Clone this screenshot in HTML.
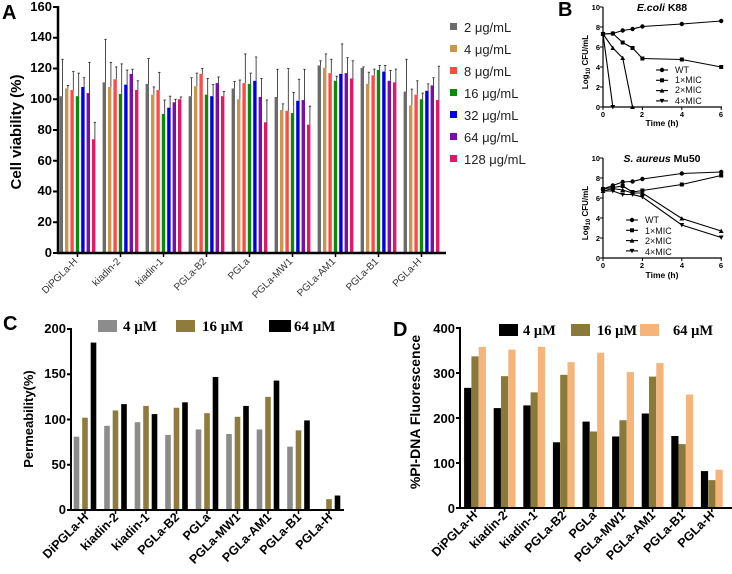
<!DOCTYPE html>
<html><head><meta charset="utf-8"><style>
html,body{margin:0;padding:0;background:#fff;}
svg{display:block;font-family:"Liberation Sans",Arial,sans-serif;}
.b{font-weight:bold;}
.s{font-family:"Liberation Serif",serif;font-weight:bold;}
</style></head><body>
<svg id="s" width="732" height="574" viewBox="0 0 732 574" xmlns="http://www.w3.org/2000/svg">
<g id="g"></g>
<text x="2" y="19" class="b" font-size="20">A</text>
<text x="558" y="16" class="b" font-size="20">B</text>
<text x="3" y="330" class="b" font-size="20">C</text>
<text x="393" y="336" class="b" font-size="20">D</text>

<g class="b" font-size="13" text-anchor="end">
<text x="52" y="257">0</text><text x="52" y="226">20</text><text x="52" y="195">40</text><text x="52" y="165">60</text><text x="52" y="134">80</text><text x="52" y="103">100</text><text x="52" y="72">120</text><text x="52" y="41">140</text><text x="52" y="11">160</text>
</g>
<text transform="translate(21,132) rotate(-90)" text-anchor="middle" class="b" font-size="15">Cell viability (%)</text>
<g font-size="10" fill="#333" text-anchor="end">
<text transform="translate(78,262) rotate(-45)">DiPGLa-H</text>
<text transform="translate(121,262) rotate(-45)">kiadin-2</text>
<text transform="translate(164,262) rotate(-45)">kiadin-1</text>
<text transform="translate(207,262) rotate(-45)">PGLa-B2</text>
<text transform="translate(250,262) rotate(-45)">PGLa</text>
<text transform="translate(293,262) rotate(-45)">PGLa-MW1</text>
<text transform="translate(336,262) rotate(-45)">PGLa-AM1</text>
<text transform="translate(379,262) rotate(-45)">PGLa-B1</text>
<text transform="translate(422,262) rotate(-45)">PGLa-H</text>
</g>
<g font-size="13" fill="#222">
<text x="464" y="32">2 μg/mL</text><text x="464" y="54">4 μg/mL</text><text x="464" y="76">8 μg/mL</text><text x="464" y="98">16 μg/mL</text><text x="464" y="120">32 μg/mL</text><text x="464" y="142">64 μg/mL</text><text x="464" y="164">128 μg/mL</text>
</g>

<text x="662" y="11" text-anchor="middle" class="b" font-size="10.5"><tspan font-style="italic">E.coli</tspan> K88</text>
<text x="662" y="162" text-anchor="middle" class="b" font-size="10.5"><tspan font-style="italic">S. aureus</tspan> Mu50</text>
<g class="b" font-size="7.5" text-anchor="end">
<text x="600" y="110">0</text><text x="600" y="90">2</text><text x="600" y="70">4</text><text x="600" y="50">6</text><text x="600" y="30">8</text><text x="600" y="10">10</text>
<text x="600" y="261">0</text><text x="600" y="241">2</text><text x="600" y="221">4</text><text x="600" y="201">6</text><text x="600" y="181">8</text><text x="600" y="161">10</text>
</g>
<g class="b" font-size="7.5" text-anchor="middle">
<text x="603" y="117">0</text><text x="642" y="117">2</text><text x="682" y="117">4</text><text x="721" y="117">6</text>
<text x="603" y="268">0</text><text x="642" y="268">2</text><text x="682" y="268">4</text><text x="721" y="268">6</text>
<text x="662" y="126" font-size="8.5">Time (h)</text>
<text x="662" y="278" font-size="8.5">Time (h)</text>
</g>
<text transform="translate(588,62) rotate(-90)" text-anchor="middle" class="b" font-size="8">Log<tspan font-size="6" dy="2">10</tspan><tspan dy="-2"> CFU/mL</tspan></text>
<text transform="translate(588,213) rotate(-90)" text-anchor="middle" class="b" font-size="8">Log<tspan font-size="6" dy="2">10</tspan><tspan dy="-2"> CFU/mL</tspan></text>
<g font-size="9" fill="#111">
<text x="675" y="73">WT</text><text x="675" y="83">1×MIC</text><text x="675" y="93">2×MIC</text><text x="675" y="104">4×MIC</text>
<text x="645" y="223">WT</text><text x="645" y="234">1×MIC</text><text x="645" y="244">2×MIC</text><text x="645" y="255">4×MIC</text>
</g>

<g class="b" font-size="13" text-anchor="end">
<text x="66" y="514">0</text><text x="66" y="469">50</text><text x="66" y="424">100</text><text x="66" y="378">150</text><text x="66" y="333">200</text>
</g>
<text transform="translate(33,419) rotate(-90)" text-anchor="middle" class="b" font-size="13">Permeability(%)</text>
<g class="s" font-size="15">
<text x="123" y="331">4 μM</text><text x="202" y="331">16 μM</text><text x="294" y="331">64 μM</text>
</g>
<g class="b" font-size="12.5" text-anchor="end">
<text transform="translate(89,518) rotate(-45)">DiPGLa-H</text>
<text transform="translate(119,518) rotate(-45)">kiadin-2</text>
<text transform="translate(150,518) rotate(-45)">kiadin-1</text>
<text transform="translate(180,518) rotate(-45)">PGLa-B2</text>
<text transform="translate(211,518) rotate(-45)">PGLa</text>
<text transform="translate(241,518) rotate(-45)">PGLa-MW1</text>
<text transform="translate(272,518) rotate(-45)">PGLa-AM1</text>
<text transform="translate(302,518) rotate(-45)">PGLa-B1</text>
<text transform="translate(333,518) rotate(-45)">PGLa-H</text>
</g>

<g class="b" font-size="13" text-anchor="end">
<text x="455" y="513">0</text><text x="455" y="468">100</text><text x="455" y="423">200</text><text x="455" y="378">300</text><text x="455" y="333">400</text>
</g>
<text transform="translate(420,412) rotate(-90)" text-anchor="middle" class="b" font-size="14">%PI-DNA Fluorescence</text>
<g class="s" font-size="14.5">
<text x="523" y="335">4 μM</text><text x="597" y="335">16 μM</text><text x="673" y="335">64 μM</text>
</g>
<g class="b" font-size="12.5" text-anchor="end">
<text transform="translate(478,516) rotate(-45)">DiPGLa-H</text>
<text transform="translate(508,516) rotate(-45)">kiadin-2</text>
<text transform="translate(538,516) rotate(-45)">kiadin-1</text>
<text transform="translate(567,516) rotate(-45)">PGLa-B2</text>
<text transform="translate(597,516) rotate(-45)">PGLa</text>
<text transform="translate(626,516) rotate(-45)">PGLa-MW1</text>
<text transform="translate(656,516) rotate(-45)">PGLa-AM1</text>
<text transform="translate(686,516) rotate(-45)">PGLa-B1</text>
<text transform="translate(715,516) rotate(-45)">PGLa-H</text>
</g>
</svg>
<script>
var g=document.getElementById('g'),NS='http://www.w3.org/2000/svg';
function el(t,a){var e=document.createElementNS(NS,t);for(var k in a)e.setAttribute(k,a[k]);g.appendChild(e);return e;}
function ln(x1,y1,x2,y2,w,c){el('line',{x1:x1,y1:y1,x2:x2,y2:y2,stroke:c||'#000','stroke-width':w||1});}
var colA=['#6b6b6b','#c8964f','#ff4a4a','#0a8a0a','#0000e0','#7a0fa8','#e0186a'];
var vA=[[102,107,106,102,108,104,74],[111,108,113,103.5,109.5,116.5,106],[110,103,106,90.5,94.5,98,100],[102,108.5,116.5,103,102,110.5,102],[107,100,110.5,110,112,101.5,85],[101.5,93,92.5,91,99,99.5,83.5],[122,120.5,117,112,116.5,117,113.5],[120.4,110,115.5,119,118,112,111],[105,96,103,100,105.5,109,99.5]];
var eA=[[126,109,118,117,114,124,85],[139,124,121,123,119,119.5,112],[126.5,108,117.5,99.5,102,100,101.5],[114,117,120,113.5,109.5,114.5,105],[111.5,112.5,129.5,117,127.5,113.5,99.5],[119.5,97,120,104.5,113,119.5,95.5],[125,129.5,126,115,136,127,125],[121,117.6,119.6,122,122,118.7,119.6],[126,106.6,112,104,110,114,121.5]];
function yA(v){return 253-v*246/160;}
for(var i=0;i<9;i++){var c=77.5+i*43;for(var j=0;j<7;j++){var x=c+(j-3)*5.4;
el('rect',{x:x-1.7,y:yA(vA[i][j]),width:3.4,height:253-yA(vA[i][j]),fill:colA[j]});
ln(x+1.2,yA(vA[i][j]),x+1.2,yA(eA[i][j]),0.8,'#222');ln(x,yA(eA[i][j]),x+2.4,yA(eA[i][j]),0.8,'#222');}
ln(c,253,c,257,1.5);}
ln(58,6,58,254,2.5);ln(57,253,446,253,2.5);
for(var k=0;k<=8;k++)ln(53,yA(k*20),58,yA(k*20),2);
for(var j=0;j<7;j++)el('rect',{x:450,y:23+j*22,width:7,height:7,fill:colA[j]});
function bx(t){return 603+t*19.7;}
function plot(oy,series,lx,ly){
 ln(603,oy-100,603,oy,1.2);ln(603,oy,722,oy,1.2);
 for(var k=0;k<=5;k++)ln(600,oy-k*20,603,oy-k*20,1);
 [0,2,4,6].forEach(function(t){ln(bx(t),oy,bx(t),oy+3,1);});
 series.forEach(function(s,si){var p=s.map(function(q){return bx(q[0])+','+(oy-q[1]*10);}).join(' ');
  el('polyline',{points:p,fill:'none',stroke:'#000','stroke-width':1.1});
  s.forEach(function(q){mk(bx(q[0]),oy-q[1]*10,si);});
  ln(lx-6,ly+si*10.3,lx+6,ly+si*10.3,1.1);mk(lx,ly+si*10.3,si);});
}
function mk(x,y,t){if(t==0)el('circle',{cx:x,cy:y,r:2.2});else if(t==1)el('rect',{x:x-2,y:y-2,width:4,height:4});else if(t==2)el('polygon',{points:(x-2.4)+','+(y+2)+' '+(x+2.4)+','+(y+2)+' '+x+','+(y-2.4)});else el('polygon',{points:(x-2.4)+','+(y-2)+' '+(x+2.4)+','+(y-2)+' '+x+','+(y+2.4)});}
plot(107,[[[0,7.3],[0.5,7.35],[1,7.65],[1.5,7.8],[2,8.05],[4,8.3],[6,8.6]],[[0,7.3],[0.5,7.35],[1,6.45],[1.5,5.9],[2,4.85],[4,4.75],[6,4.0]],[[0,7.3],[0.5,5.9],[1,4.9],[1.5,0]],[[0,7.3],[0.5,0]]],662,70);
plot(258,[[[0,6.9],[0.5,7.25],[1,7.6],[1.5,7.65],[2,7.9],[4,8.45],[6,8.6]],[[0,6.9],[0.5,7.05],[1,7.2],[1.5,6.6],[2,6.75],[4,7.35],[6,8.25]],[[0,6.7],[0.5,6.95],[1,6.8],[1.5,6.5],[2,6.5],[4,3.95],[6,2.7]],[[0,6.7],[0.5,6.7],[1,6.35],[1.5,6.35],[2,6.1],[4,3.3],[6,2.05]]],632,220);
var cC=['#8c8c8c','#8f7c3c','#000'],vC=[[81,102,185],[93,110,117],[97,115,106],[83,113,119],[89,107,147],[84,103,115],[89,125,143],[70,88,99],[0,12,16]];
for(var i=0;i<9;i++){var c=85+i*30.5;for(var j=0;j<3;j++){var h=vC[i][j]*0.905;el('rect',{x:c+(j-1)*8.5-2.8,y:510-h,width:5.6,height:h,fill:cC[j]});}ln(c,510,c,514,1.5);}
ln(71,328,71,511,2);ln(70,510,344,510,2);
for(var k=0;k<=4;k++)ln(67,510-k*45.25,71,510-k*45.25,2);
for(var j=0;j<3;j++)el('rect',{x:[98,176,269][j],y:320,width:[19,19,22][j],height:12,fill:cC[j]});
var cD=['#000','#8a7a3a','#f4b47a'],vD=[[267,337,358],[222,293,352],[228,257,358],[146,296,324],[192,170,345],[159,195,302],[210,292,322],[160,142,252],[82,62,85]];
for(var i=0;i<9;i++){var c=475+i*29.6;for(var j=0;j<3;j++){var h=vD[i][j]*0.45;el('rect',{x:c+(j-1)*7.3-3.6,y:508-h,width:7.2,height:h,fill:cD[j]});}ln(c,508,c,512,1.5);}
ln(460,327,460,509,2);ln(459,508,732,508,2);
for(var k=0;k<=4;k++)ln(456,508-k*45,460,508-k*45,2);
for(var j=0;j<3;j++)el('rect',{x:[499,571,640][j],y:324,width:19,height:12,fill:cD[j]});
</script>
</body></html>
